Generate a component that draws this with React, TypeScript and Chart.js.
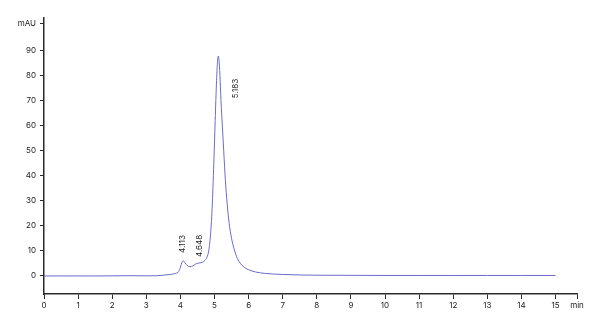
import React, { useEffect, useRef } from "react";
import { Chart, registerables } from "chart.js";

Chart.register(...registerables);

const times = [0, 0.5, 1, 1.5, 2, 2.5, 3, 3.3, 3.5, 3.7, 3.85, 3.95, 4.0, 4.05, 4.09, 4.13, 4.2, 4.28, 4.36, 4.45, 4.55, 4.65, 4.72, 4.78, 4.83, 4.88, 4.93, 4.98, 5.02, 5.06, 5.09, 5.11, 5.13, 5.16, 5.19, 5.23, 5.27, 5.32, 5.37, 5.43, 5.5, 5.58, 5.67, 5.77, 5.9, 6.0, 6.2, 6.5, 7.0, 7.5, 8.0, 9, 10, 11, 12, 13, 14, 15];
const absorbance = [0, 0, 0, 0, 0.05, 0.1, 0.05, 0.1, 0.3, 0.6, 1.0, 1.8, 3.5, 5.6, 6.0, 5.3, 4.2, 3.7, 4.0, 4.8, 5.2, 5.5, 6.2, 7.5, 10, 16, 27, 45, 62, 78, 86, 87.8, 86.5, 80, 70, 60, 50, 38, 29, 21, 15, 10.5, 7, 4.8, 3.2, 2.5, 1.6, 1.0, 0.6, 0.4, 0.3, 0.25, 0.2, 0.2, 0.2, 0.2, 0.2, 0.2];

const xTickValues = [0, 1, 2, 3, 4, 5, 6, 7, 8, 9, 10, 11, 12, 13, 14, 15];
const xUnitTick = 15.63;
const xUnitLabel = "min";
const yTickValues = [0, 10, 20, 30, 40, 50, 60, 70, 80, 90];
const yUnitTick = 100.8;
const yUnitLabel = "mAU";

const peakLabels = ["4.113", "4.648", "5.183"];
const peakLabelX = [4.07, 4.55, 5.63];
const peakLabelY = [9.2, 7.6, 71];

const AXIS_COLOR = "#2b2b2b";
const TEXT_COLOR = "#222222";
const LINE_COLOR = "#6a6acb";
const FONT = "Inter";

const peakLabelPlugin = {
  id: "peakLabels",
  afterDatasetsDraw(chart: any) {
    const ctx = chart.ctx;
    const xs = chart.scales.x;
    const ys = chart.scales.y;
    ctx.save();
    ctx.fillStyle = TEXT_COLOR;
    ctx.font = `8px ${FONT}`;
    ctx.textAlign = "left";
    ctx.textBaseline = "middle";
    peakLabels.forEach((lab, i) => {
      const px = xs.getPixelForValue(peakLabelX[i]);
      const py = ys.getPixelForValue(peakLabelY[i]);
      ctx.save();
      ctx.translate(px, py);
      ctx.rotate(-Math.PI / 2);
      ctx.fillText(lab, 0, 0);
      ctx.restore();
    });
    ctx.restore();
  },
};

export default function App() {
  const ref = useRef<HTMLCanvasElement | null>(null);
  useEffect(() => {
    if (!ref.current) return;
    const chart = new Chart(ref.current, {
      type: "line",
      data: {
        datasets: [
          {
            data: times.map((t, i) => ({ x: t, y: absorbance[i] })),
            borderColor: LINE_COLOR,
            borderWidth: 1,
            pointRadius: 0,
            fill: false,
            cubicInterpolationMode: "monotone",
          },
        ],
      },
      options: {
        animation: false,
        responsive: true,
        maintainAspectRatio: false,
        layout: { padding: { top: 18, right: 23, left: 0, bottom: 0 } },
        plugins: { legend: { display: false }, tooltip: { enabled: false } },
        scales: {
          x: {
            type: "linear",
            min: 0,
            max: xUnitTick,
            afterBuildTicks: (s: any) => {
              s.ticks = [...xTickValues, xUnitTick].map((v) => ({ value: v }));
            },
            afterFit: (s: any) => {
              s.height = 36;
            },
            grid: {
              display: true,
              drawOnChartArea: false,
              drawTicks: true,
              tickLength: 5,
              color: AXIS_COLOR,
              lineWidth: 1,
            },
            border: { display: true, color: AXIS_COLOR, width: 1.5 },
            ticks: {
              autoSkip: false,
              maxRotation: 0,
              padding: 2,
              color: TEXT_COLOR,
              font: { family: FONT, size: 8 },
              callback: (v: any) => (v === xUnitTick ? xUnitLabel : String(v)),
            },
          },
          y: {
            type: "linear",
            min: -7.2,
            max: 103,
            afterBuildTicks: (s: any) => {
              s.ticks = [...yTickValues, yUnitTick].map((v) => ({ value: v }));
            },
            afterFit: (s: any) => {
              s.width = 44;
            },
            grid: {
              display: true,
              drawOnChartArea: false,
              drawTicks: true,
              tickLength: 4,
              color: AXIS_COLOR,
              lineWidth: 1,
            },
            border: { display: true, color: AXIS_COLOR, width: 1.5 },
            ticks: {
              autoSkip: false,
              padding: 4,
              color: TEXT_COLOR,
              font: { family: FONT, size: 8 },
              callback: (v: any) => (v === yUnitTick ? yUnitLabel : String(v)),
            },
          },
        },
      },
      plugins: [peakLabelPlugin],
    } as any);
    return () => chart.destroy();
  }, []);
  return (
    <div style={{ position: "fixed", left: 0, top: 0, width: 600, height: 330, background: "#fff" }}>
      <canvas ref={ref} />
    </div>
  );
}
